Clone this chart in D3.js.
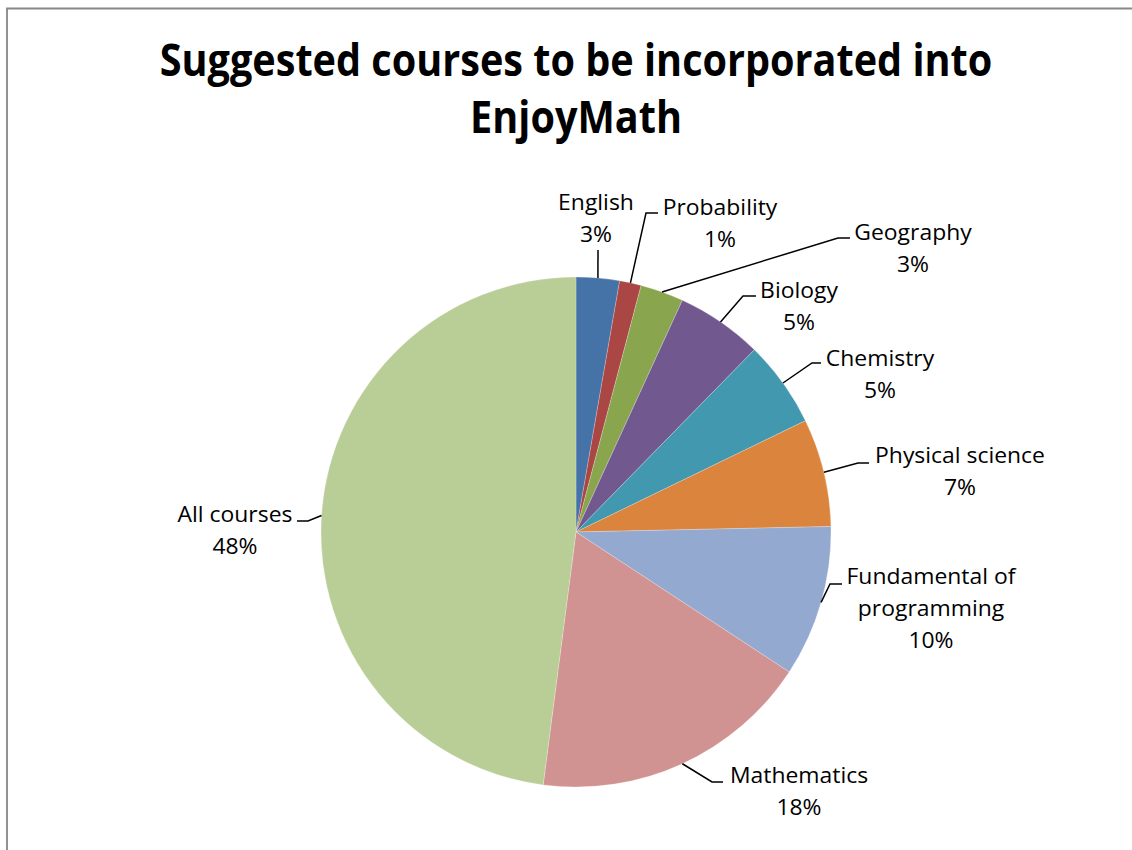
<!DOCTYPE html>
<html>
<head>
<meta charset="utf-8">
<script src="https://cdn.jsdelivr.net/npm/d3@7"></script>
<style>
  html, body { margin: 0; padding: 0; background: #fff; overflow: hidden; }
  svg { display: block; }
</style>
</head>
<body>
<svg id="chart" width="1132" height="850"></svg>
<script>
// ---- data ----
const titleLines = ["Suggested courses to be incorporated into", "EnjoyMath"];
const categories = ["English", "Probability", "Geography", "Biology", "Chemistry",
  "Physical science", "Fundamental of programming", "Mathematics", "All courses"];
const labelLines = [["English"], ["Probability"], ["Geography"], ["Biology"], ["Chemistry"],
  ["Physical science"], ["Fundamental of", "programming"], ["Mathematics"], ["All courses"]];
const counts = [2, 1, 2, 4, 4, 5, 7, 13, 35];
const colors = ["#4572A7", "#AA4643", "#89A54E", "#71588F", "#4198AF",
  "#DB843D", "#93A9CF", "#D19392", "#B9CD96"];

// ---- layout (label placement, not data) ----
const cx = 576, cy = 532, R = 255;
// elbow point, line end point, label center x, first baseline
const labelLayout = [
  { elbow: [598, 250], end: [598, 250], tx: 596, ty: 210 },
  { elbow: [646, 213], end: [658, 213], tx: 720, ty: 215 },
  { elbow: [838, 238], end: [850, 238], tx: 913, ty: 240 },
  { elbow: [743, 296], end: [756, 296], tx: 799, ty: 298 },
  { elbow: [812, 363], end: [821, 363], tx: 880, ty: 366 },
  { elbow: [858, 463], end: [869, 463], tx: 960, ty: 463 },
  { elbow: [830, 584], end: [842, 584], tx: 931, ty: 584 },
  { elbow: [712, 782], end: [723, 782], tx: 799, ty: 783 },
  { elbow: [308, 521], end: [297, 521], tx: 235, ty: 522 }
];

const svg = d3.select("#chart");
const FONT = "'Open Sans', 'Noto Sans', sans-serif";

// chart border (only top and left edges are visible in the frame)
svg.append("path")
  .attr("d", "M7,850 L7,8.5 L1132,8.5")
  .attr("fill", "none").attr("stroke", "#878787").attr("stroke-width", 1.8);

// title
const tg = svg.append("g");
const tl = titleLines.map((t, i) => tg.append("text")
  .attr("text-anchor", "middle")
  .attr("font-family", FONT).attr("font-weight", 700)
  .attr("font-size", 45).attr("fill", "#000")
  .attr("transform", `translate(${cx},${76 + i * 57})`)
  .text(t));
const w1 = tl[0].node().getComputedTextLength();
const sxT = 833 / w1;
tl.forEach((t, i) => t.attr("transform", `translate(${cx},${76 + i * 57}) scale(${sxT},1)`));

// pie
const total = d3.sum(counts);
const pie = d3.pie().sort(null).value(d => d)(counts);
const arc = d3.arc().innerRadius(0).outerRadius(R);

const g = svg.append("g").attr("transform", `translate(${cx},${cy})`);
g.selectAll("path").data(pie).join("path")
  .attr("d", arc)
  .attr("fill", (d, i) => colors[i])
  .attr("stroke", "#ffffff").attr("stroke-width", 0.5).attr("stroke-opacity", 0.45);

// leader lines
pie.forEach((d, i) => {
  const a = (d.startAngle + d.endAngle) / 2;
  const p0 = [cx + R * Math.sin(a), cy - R * Math.cos(a)];
  const L = labelLayout[i];
  svg.append("path")
    .attr("d", d3.line()([p0, L.elbow, L.end]))
    .attr("fill", "none").attr("stroke", "#000").attr("stroke-width", 1.5);
});

// labels
const labelFontSize = 22;
const probe = svg.append("text").attr("font-family", FONT).attr("font-size", labelFontSize).text("Physical science");
const sxL = 170 / probe.node().getComputedTextLength();
probe.remove();

pie.forEach((d, i) => {
  const L = labelLayout[i];
  const pct = Math.round(d.value / total * 100) + "%";
  const lines = labelLines[i].concat([pct]);
  lines.forEach((t, j) => {
    svg.append("text")
      .attr("text-anchor", "middle")
      .attr("font-family", FONT).attr("font-size", labelFontSize).attr("fill", "#000")
      .attr("transform", `translate(${L.tx},${L.ty + j * 32}) scale(${sxL},1)`)
      .text(t);
  });
});
</script>
</body>
</html>
